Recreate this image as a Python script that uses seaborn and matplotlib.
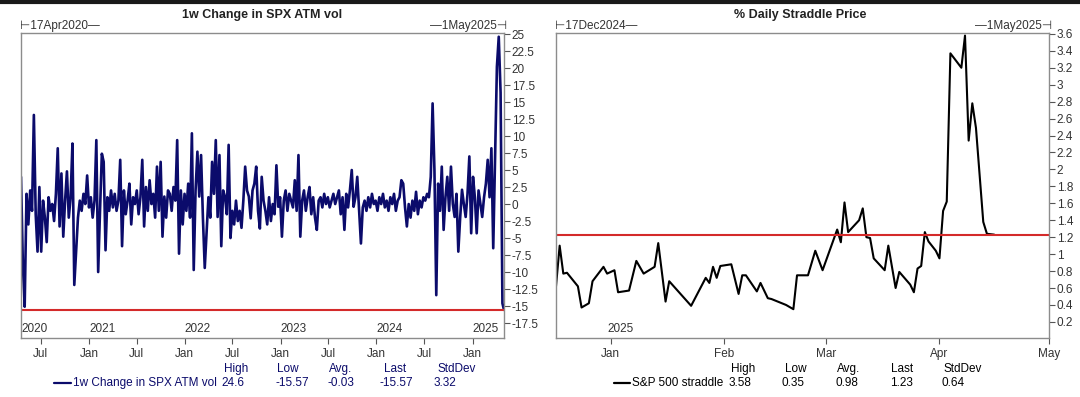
import pandas as pd
import seaborn as sns
import matplotlib.pyplot as plt
import matplotlib.dates as mdates
from matplotlib.lines import Line2D

# --- data: 1w change in SPX ATM vol (weekly readings) ---
vol_start = '2020-04-17'
vol_end = '2025-05-01'
vol_change = [
    4.0, -8.7, -15.1, 1.5, -3.0, 2.0, -1.0, 13.1, -1.5, -7.0,
    2.5, -7.0, 0.5, -2.0, -5.6, 1.0, -1.0, 0.0, -2.5, 1.5,
    8.2, -3.3, 4.5, -4.8, 0.5, 4.8, -2.0, 1.0, 8.9, -11.9,
    -6.8, -2.0, 0.5, -1.0, 1.5, 0.0, 4.2, -0.5, 1.0, -2.0,
    0.5, 9.4, -10.0, -1.0, 7.4, 6.2, -6.8, 1.0, -1.0, 2.0,
    -0.5, 1.5, -1.0, 0.5, 6.5, -6.2, 2.0, -1.5, 0.5, 3.0,
    -3.0, 1.0, 0.0, 2.0, -1.5, 1.0, 6.5, -3.3, 2.5, -1.0,
    3.5, 0.0, 1.5, -2.0, 5.5, -1.0, 6.2, -4.8, 1.1, -2.0,
    2.0, 1.5, -1.0, 2.5, 0.5, 9.4, -7.3, 2.0, -3.0, 1.5,
    -1.0, 3.0, -2.0, 10.4, -9.7, 2.0, 7.7, 1.1, 7.2, -2.0,
    -9.4, -4.3, 1.0, -2.0, 6.2, 1.5, 9.4, -1.9, 7.2, -6.2,
    2.0, 1.1, -1.5, 8.7, -5.0, -1.0, -3.0, 0.5, -2.5, -1.0,
    -3.5, 0.5, 5.5, 2.0, 1.1, -2.1, 2.0, 3.0, 5.5, -1.0,
    -3.6, 4.0, 0.5, -1.0, -3.0, 1.0, -2.5, 0.0, -1.5, 5.7,
    -0.4, 1.0, -4.8, 0.5, 2.0, -1.0, 1.5, 0.5, -0.5, 3.5,
    -1.0, 7.2, -4.8, 0.5, 2.0, -1.0, 1.0, 2.5, -1.5, 1.0,
    -2.0, -3.8, 0.5, 1.0, -0.5, 1.5, 0.0, 1.0, -0.5, 0.5,
    1.5, 0.0, 1.0, 2.0, -1.5, 1.0, -3.8, 1.5, -0.5, 2.0,
    5.0, -0.4, 1.0, 4.0, -1.0, -5.8, -0.5, 0.5, -1.0, 1.0,
    -0.5, 1.5, 0.0, 0.5, -1.0, 1.0, 0.0, 1.5, -0.5, 0.5,
    -1.0, 1.0, 0.0, 1.5, -1.0, 0.5, 1.0, 3.5, 3.0, -0.5,
    -3.3, 0.0, -2.0, 0.5, -1.0, 1.8, -1.5, 0.5, -0.5, 1.0,
    0.5, 1.5, 1.0, 4.0, 14.8, 5.0, -13.4, 3.0, -1.0, 5.5,
    -3.8, 1.0, 4.0, -1.0, 5.5, 0.0, -1.9, 1.5, -7.0, -2.0,
    2.1, 0.0, -1.9, 1.5, 7.0, -4.3, 4.0, 1.0, -4.3, 2.0,
    0.0, -1.9, 1.0, 3.0, 6.5, 1.0, 8.2, -6.5, 6.5, 20.2,
    24.6, 16.4, -14.6, -15.57,
]
vol_years = ['2020', '2021', '2022', '2023', '2024', '2025']
vol_stats = ['24.6', '-15.57', '-0.03', '-15.57', '3.32']
vol_last = -15.57

# --- data: % daily straddle price ---
straddle_dates = [
    '2024-12-17', '2024-12-18', '2024-12-19', '2024-12-20', '2024-12-23',
    '2024-12-24', '2024-12-26', '2024-12-27', '2024-12-30', '2024-12-31',
    '2025-01-02', '2025-01-03', '2025-01-06', '2025-01-08', '2025-01-10',
    '2025-01-13', '2025-01-14', '2025-01-16', '2025-01-17', '2025-01-23',
    '2025-01-27', '2025-01-28', '2025-01-29', '2025-01-30', '2025-01-31',
    '2025-02-03', '2025-02-05', '2025-02-06', '2025-02-07', '2025-02-10',
    '2025-02-11', '2025-02-13', '2025-02-14', '2025-02-18', '2025-02-20',
    '2025-02-21', '2025-02-24', '2025-02-26', '2025-02-28', '2025-03-04',
    '2025-03-05', '2025-03-06', '2025-03-07', '2025-03-10', '2025-03-11',
    '2025-03-12', '2025-03-13', '2025-03-14', '2025-03-17', '2025-03-18',
    '2025-03-20', '2025-03-21', '2025-03-24', '2025-03-25', '2025-03-26',
    '2025-03-27', '2025-03-28', '2025-03-29', '2025-03-31', '2025-04-01',
    '2025-04-02', '2025-04-03', '2025-04-04', '2025-04-07', '2025-04-08',
    '2025-04-09', '2025-04-10', '2025-04-11', '2025-04-13', '2025-04-14',
    '2025-04-16',
]
straddle = [
    0.62, 1.10, 0.77, 0.78, 0.62, 0.37, 0.42, 0.68, 0.85, 0.77,
    0.81, 0.55, 0.57, 0.92, 0.77, 0.85, 1.13, 0.44, 0.68, 0.39,
    0.72, 0.66, 0.85, 0.72, 0.86, 0.88, 0.53, 0.75, 0.75, 0.56,
    0.66, 0.48, 0.47, 0.40, 0.35, 0.75, 0.75, 1.04, 0.81, 1.29,
    1.14, 1.61, 1.26, 1.40, 1.54, 1.20, 1.19, 0.95, 0.81, 1.10,
    0.60, 0.79, 0.64, 0.55, 0.83, 0.86, 1.26, 1.15, 1.04, 0.95,
    1.51, 1.62, 3.37, 3.20, 3.58, 2.34, 2.78, 2.49, 1.38, 1.24,
    1.23,
]
straddle_stats = ['3.58', '0.35', '0.98', '1.23', '0.64']
straddle_last = 1.23

stat_headers = ['High', 'Low', 'Avg.', 'Last', 'StdDev']

sns.set_style('white')
plt.rcParams['font.family'] = ['Liberation Sans', 'DejaVu Sans']

W, H = 1080, 397
fig = plt.figure(figsize=(W / 100, H / 100), dpi=100)
navy = '#0b0b6b'
red = '#d42a2a'
spine_col = '#8c8c8c'
txt = '#333333'


def px(x, y):
    return x / W, 1 - y / H


def style_axes(ax, ylim, yticks):
    ax.set_ylim(*ylim)
    ax.set_yticks(yticks)
    ax.yaxis.tick_right()
    ax.yaxis.set_major_formatter(plt.FuncFormatter(lambda v, p: f'{v:g}'))
    for s in ax.spines.values():
        s.set_color(spine_col)
        s.set_linewidth(1.0)
    ax.tick_params(axis='both', direction='out', length=4, width=0.8,
                   color='#555555', labelsize=8.5, labelcolor=txt, pad=1.5)
    ax.tick_params(axis='y', right=True, left=False)
    ax.tick_params(axis='x', bottom=True, pad=3)
    ax.set_xlabel('')
    ax.set_ylabel('')
    ax.grid(False)


def stats_block(x_line, x_text, label, color, xs_head, xs_val, values):
    fig.add_artist(Line2D([x_line[0] / W, x_line[1] / W], [1 - 383 / H] * 2,
                          color=color, lw=1.6))
    fig.text(*px(x_text, 383), label, color=color, fontsize=8.5, va='center')
    for h, v, xh, xv in zip(stat_headers, values, xs_head, xs_val):
        fig.text(*px(xh, 369), h, color=color, fontsize=8.5, va='center')
        fig.text(*px(xv, 383), v, color=color, fontsize=8.5, va='center')


# ---------------- left chart ----------------
ax1 = fig.add_axes([21 / W, 1 - 338 / H, (504 - 21) / W, (338 - 33) / H])
vol_dates = list(pd.date_range(vol_start, periods=len(vol_change) - 1, freq='7D')) + [pd.Timestamp(vol_end)]
df1 = pd.DataFrame({'date': vol_dates, 'value': vol_change})
sns.lineplot(data=df1, x='date', y='value', ax=ax1, color=navy, lw=1.9)
ax1.axhline(vol_last, color=red, lw=1.5)
ax1.set_xlim(pd.Timestamp(vol_start), pd.Timestamp(vol_end))
style_axes(ax1, (-19.7, 25.15), [25 - 2.5 * i for i in range(18)])
ax1.xaxis.set_major_locator(mdates.MonthLocator(bymonth=[1, 7]))
ax1.xaxis.set_major_formatter(mdates.DateFormatter('%b'))
for i, yr in enumerate(vol_years):
    xpos = pd.Timestamp(vol_start) + pd.Timedelta(days=3) if i == 0 else pd.Timestamp(f'{yr}-01-01')
    ax1.text(xpos, 0.01, yr, transform=ax1.get_xaxis_transform(), fontsize=8.5,
             color=txt, ha='left', va='bottom')
fig.text(*px(262, 15), '1w Change in SPX ATM vol', ha='center', va='center',
         fontsize=9, fontweight='bold', color='#222222')
fig.text(*px(20, 26), '\u22a217Apr2020\u2014', ha='left', va='center', fontsize=8.5, color=txt)
fig.text(*px(507, 26), '\u20141May2025\u22a3', ha='right', va='center', fontsize=8.5, color=txt)
stats_block((54, 71), 73, '1w Change in SPX ATM vol', navy,
            [224, 277, 329, 384, 437], [221, 275, 327, 380, 434], vol_stats)

# ---------------- right chart ----------------
ax2 = fig.add_axes([556 / W, 1 - 338 / H, (1049 - 556) / W, (338 - 33) / H])
df2 = pd.DataFrame({'date': pd.to_datetime(straddle_dates), 'value': straddle})
sns.lineplot(data=df2, x='date', y='value', ax=ax2, color='black', lw=1.5)
ax2.axhline(straddle_last, color=red, lw=1.5)
ax2.set_xlim(pd.Timestamp('2024-12-17'), pd.Timestamp('2025-05-01'))
style_axes(ax2, (0.01, 3.61), [round(3.6 - 0.2 * i, 1) for i in range(18)])
ax2.xaxis.set_major_locator(mdates.MonthLocator())
ax2.xaxis.set_major_formatter(mdates.DateFormatter('%b'))
ax2.text(pd.Timestamp('2024-12-31'), 0.01, '2025', transform=ax2.get_xaxis_transform(),
         fontsize=8.5, color=txt, ha='left', va='bottom')
fig.text(*px(800, 15), '% Daily Straddle Price', ha='center', va='center',
         fontsize=9, fontweight='bold', color='#222222')
fig.text(*px(555, 26), '\u22a217Dec2024\u2014', ha='left', va='center', fontsize=8.5, color=txt)
fig.text(*px(1052, 26), '\u20141May2025\u22a3', ha='right', va='center', fontsize=8.5, color=txt)
stats_block((614, 630), 632, 'S&P 500 straddle', 'black',
            [731, 785, 837, 891, 944], [729, 781, 836, 890, 942], straddle_stats)

# dark band along the top edge
fig.add_artist(Line2D([0, 1], [0.996, 0.996], color='#1a1a1a', lw=3))

fig.savefig('out.png', dpi=100)
